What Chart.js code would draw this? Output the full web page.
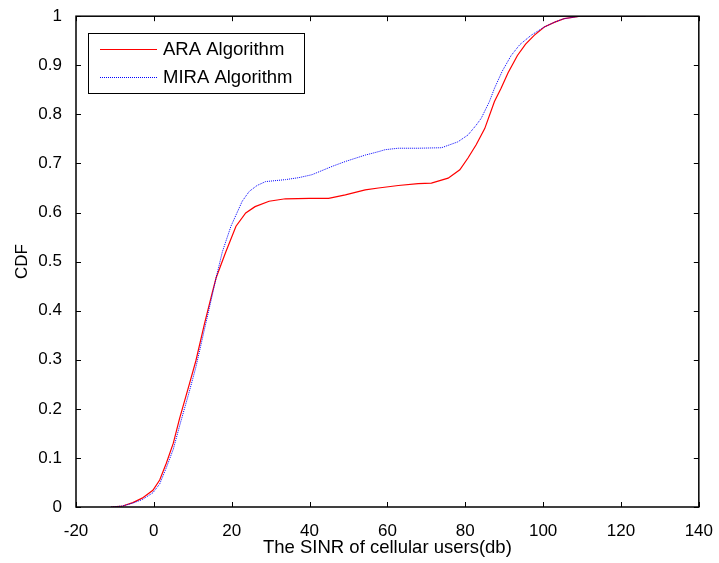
<!DOCTYPE html>
<html>
<head>
<meta charset="utf-8">
<script src="https://cdn.jsdelivr.net/npm/chart.js@4.4.0/dist/chart.umd.min.js"></script>
<style>
    html, body { margin: 0; padding: 0; background: #fff; }
</style>
</head>
<body>
<canvas id="cdfChart" width="719" height="563"></canvas>
<script>
// ARA curve (red)
const araX = [-11, -8, -5.4, -3, -0.25, 1.5, 3.2, 5, 6.6, 9.1, 10.8, 13.0, 15.1, 16, 18.5, 21.1, 23.6, 26, 29.6, 33.8, 40, 44.9, 49.2, 54.3, 57.7, 62.8, 67.9, 71.3, 75.6, 78.6, 80.7, 82.8, 85, 87.5, 89.2, 91, 93.4, 95.5, 97.7, 100.3, 103, 105.4, 109.6, 126.3];
const araY = [0, 0.002, 0.009, 0.018, 0.034, 0.055, 0.089, 0.13, 0.18, 0.25, 0.298, 0.373, 0.44, 0.467, 0.52, 0.572, 0.599, 0.612, 0.623, 0.628, 0.629, 0.629, 0.636, 0.646, 0.65, 0.655, 0.659, 0.66, 0.67, 0.687, 0.711, 0.738, 0.771, 0.826, 0.853, 0.885, 0.92, 0.943, 0.961, 0.978, 0.988, 0.995, 1.0, 1.0];

// MIRA curve (blue)
const miraX = [-11, -8, -5.4, -3, -0.25, 1.5, 3.2, 5, 6.6, 9.1, 10.8, 13.0, 15.1, 16, 17.6, 19.8, 22.7, 24.5, 26.5, 28.7, 33.8, 37.2, 40.6, 45.8, 49.2, 54.3, 57.7, 59.4, 62.8, 67.9, 73.9, 78.1, 80.7, 82.8, 84.1, 86.2, 87.5, 89.5, 91.8, 94, 96.9, 100.3, 103, 105.4, 109.6, 126.3];
const miraY = [0, 0.002, 0.008, 0.015, 0.029, 0.047, 0.08, 0.118, 0.165, 0.235, 0.285, 0.362, 0.435, 0.467, 0.52, 0.572, 0.623, 0.643, 0.655, 0.663, 0.667, 0.671, 0.677, 0.694, 0.704, 0.717, 0.724, 0.728, 0.731, 0.731, 0.732, 0.744, 0.758, 0.778, 0.792, 0.826, 0.853, 0.888, 0.92, 0.942, 0.961, 0.978, 0.988, 0.995, 1.0, 1.0];

const seriesNames = ['ARA Algorithm', 'MIRA Algorithm'];
const xTicks = [-20, 0, 20, 40, 60, 80, 100, 120, 140];
const yTicks = [0, 0.1, 0.2, 0.3, 0.4, 0.5, 0.6, 0.7, 0.8, 0.9, 1];

const FONT = "'Liberation Sans', Arial, sans-serif";

const toPoints = (xs, ys) => xs.map((x, i) => ({ x: x, y: ys[i] }));

// matlab style box + inward ticks
const boxPlugin = {
    id: 'boxTicks',
    afterDraw(chart) {
        const { ctx, chartArea: a, scales } = chart;
        ctx.save();
        ctx.strokeStyle = '#000';
        ctx.lineWidth = 1;
        xTicks.forEach(v => {
            const px = Math.round(scales.x.getPixelForValue(v)) + 0.5;
            ctx.beginPath();
            ctx.moveTo(px, a.bottom); ctx.lineTo(px, a.bottom - 5);
            ctx.moveTo(px, a.top); ctx.lineTo(px, a.top + 5);
            ctx.stroke();
        });
        yTicks.forEach(v => {
            const py = Math.round(scales.y.getPixelForValue(v)) + 0.5;
            ctx.beginPath();
            ctx.moveTo(a.left, py); ctx.lineTo(a.left + 5, py);
            ctx.moveTo(a.right, py); ctx.lineTo(a.right - 5, py);
            ctx.stroke();
        });
        ctx.lineWidth = 1.5;
        ctx.strokeRect(a.left, a.top, a.right - a.left, a.bottom - a.top);

        // legend box
        ctx.lineWidth = 1;
        ctx.fillStyle = '#fff';
        ctx.fillRect(88, 33, 216, 60);
        ctx.strokeRect(88.5, 33.5, 216, 60);
        const rows = [{ y: 49, color: '#ff0000', dash: [] }, { y: 77, color: '#0000ff', dash: [1, 1] }];
        rows.forEach((r, i) => {
            ctx.strokeStyle = r.color;
            ctx.setLineDash(r.dash);
            ctx.beginPath();
            ctx.moveTo(100, r.y + 0.5); ctx.lineTo(157, r.y + 0.5);
            ctx.stroke();
            ctx.setLineDash([]);
            ctx.fillStyle = '#000';
            ctx.font = '18.5px ' + FONT;
            ctx.textBaseline = 'middle';
            ctx.fillText(seriesNames[i], 163, r.y + 1);
        });
        ctx.restore();
    }
};

new Chart(document.getElementById('cdfChart'), {
    type: 'line',
    data: {
        datasets: [
            {
                label: seriesNames[0],
                data: toPoints(araX, araY),
                borderColor: '#ff0000', borderWidth: 1.2, pointRadius: 0, tension: 0, order: 2
            },
            {
                label: seriesNames[1],
                data: toPoints(miraX, miraY),
                borderColor: '#0000ff', borderWidth: 1, borderDash: [1, 1], pointRadius: 0, tension: 0, order: 1
            }
        ]
    },
    options: {
        responsive: false,
        animation: false,
        layout: { padding: { top: 14, right: 17, left: 0, bottom: 0 } },
        plugins: { legend: { display: false }, tooltip: { enabled: false } },
        scales: {
            x: {
                type: 'linear', min: -20, max: 140,
                afterBuildTicks: s => { s.ticks = xTicks.map(v => ({ value: v })); },
                afterFit: s => { s.height = 56; },
                grid: { display: false },
                border: { display: false },
                ticks: { color: '#000', font: { family: FONT, size: 17 }, padding: 6, maxRotation: 0 },
                title: { display: true, text: 'The SINR of cellular users(db)', color: '#000', font: { family: FONT, size: 18.5 }, padding: { top: 1 } }
            },
            y: {
                type: 'linear', min: 0, max: 1,
                afterBuildTicks: s => { s.ticks = yTicks.map(v => ({ value: v })); },
                afterFit: s => { s.width = 76; },
                grid: { display: false },
                border: { display: false },
                ticks: { color: '#000', font: { family: FONT, size: 17 }, padding: 6, callback: v => String(Number(v.toFixed(1))) },
                title: { display: true, text: 'CDF', color: '#000', font: { family: FONT, size: 17 }, padding: { top: 12 } }
            }
        }
    },
    plugins: [boxPlugin]
});
</script>
</body>
</html>
